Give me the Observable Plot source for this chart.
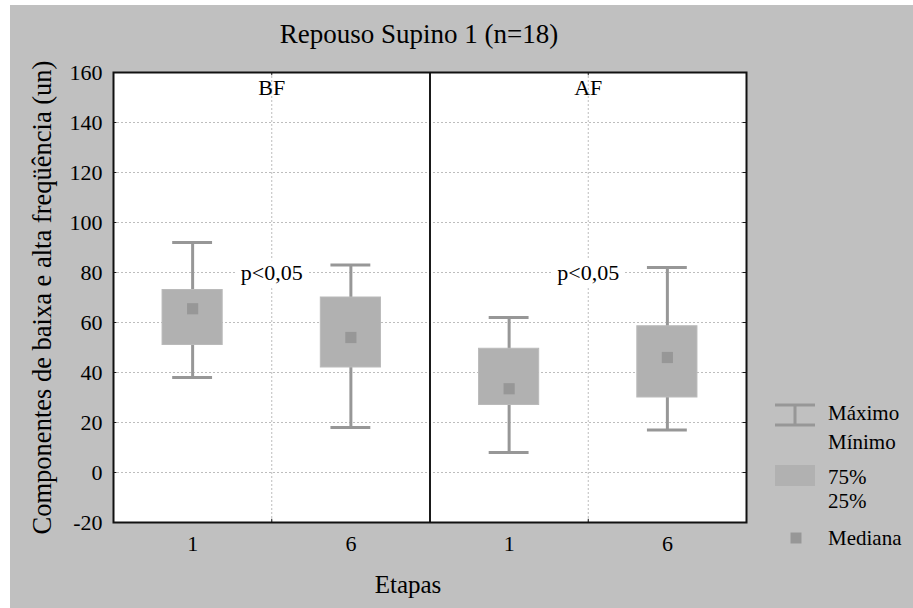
<!DOCTYPE html>
<html>
<head>
<meta charset="utf-8">
<script src="https://cdn.jsdelivr.net/npm/d3@7"></script>
<script src="https://cdn.jsdelivr.net/npm/@observablehq/plot@0.6"></script>
<style>
  html, body { margin: 0; padding: 0; background: #ffffff; overflow: hidden; width: 913px; height: 608px; }
  #bg { position: absolute; left: 10px; top: 5px; width: 903px; height: 603px; background: #c0c0c0; }
  #chart { position: absolute; left: 0; top: 0; }
  #chart svg, #chart svg text { font-family: "Liberation Serif", "Times New Roman", serif !important; }
  #legend { position: absolute; left: 0; top: 0; width: 913px; height: 608px; pointer-events: none; }
  #legend .t { position: absolute; font-family: "Liberation Serif", "Times New Roman", serif; font-size: 21px; color: #000; line-height: 20px; white-space: nowrap; }
</style>
</head>
<body>
<div id="bg"></div>
<div id="chart"></div>
<div id="legend"></div>
<script>
// ---- data ----
const panels = ["BF", "AF"];
const etapas = ["1", "6"];
const boxPanel = ["BF", "BF", "AF", "AF"];
const boxEtapa = ["1", "6", "1", "6"];
const maxima  = [92, 83, 62, 82];
const q75     = [73, 70, 49.5, 58.5];
const medians = [65.5, 54, 33.5, 46];
const q25     = [51, 42, 27, 30];
const minima  = [38, 18, 8, 17];
const yTicks = [-20, 0, 20, 40, 60, 80, 100, 120, 140, 160];
const pText = ["p<0,05", "p<0,05"];
const pValueY = [80, 80];
const title = "Repouso Supino 1 (n=18)";
const yLabel = "Componentes de baixa e alta freqüência (un)";
const xLabel = "Etapas";
const legendLabels = ["Máximo", "Mínimo", "75%", "25%", "Mediana"];

// ---- derived table ----
const pos = (p, e) => panels.indexOf(p) * etapas.length + etapas.indexOf(e) + 0.5;
const rows = boxPanel.map((p, i) => ({
  panel: p, etapa: boxEtapa[i], x: pos(p, boxEtapa[i]),
  max: maxima[i], q3: q75[i], med: medians[i], q1: q25[i], min: minima[i]
}));
const tickPos = panels.flatMap(p => etapas.map(e => pos(p, e)));
const mids = panels.map((p, i) => i * etapas.length + etapas.length / 2);
const dividers = panels.slice(1).map((p, i) => (i + 1) * etapas.length);
const pRows = panels.map((p, i) => ({x: mids[i], y: pValueY[i], text: pText[i]}));
const panelRows = panels.map((p, i) => ({x: mids[i], text: p}));
const gridY = yTicks.slice(1, -1);
const xMax = panels.length * etapas.length;

const boxHalf = 0.19, capHalf = 0.126;
const whisk = "#979797", boxFill = "#b1b1b1";
const serif = "Liberation Serif";

const chart = Plot.plot({
  width: 913, height: 608,
  marginLeft: 113, marginRight: 167, marginTop: 72, marginBottom: 86,
  style: {background: "transparent", fontFamily: serif, fontSize: "22px", color: "#000"},
  x: {domain: [0, xMax], axis: null},
  y: {domain: [yTicks[0], yTicks[yTicks.length - 1]], axis: null},
  marks: [
    Plot.frame({fill: "white", stroke: null}),
    Plot.ruleY(gridY, {stroke: "#bdbdbd", strokeDasharray: "2,2", strokeWidth: 1}),
    Plot.ruleX(mids, {stroke: "#bdbdbd", strokeDasharray: "2,2", strokeWidth: 1}),
    Plot.ruleX(dividers, {stroke: "#1a1a1a", strokeWidth: 2}),
    // inner tick marks
    Plot.ruleY(gridY, {x1: 0, x2: 0.022, stroke: "#1a1a1a", strokeWidth: 1}),
    Plot.ruleY(gridY, {x1: xMax - 0.022, x2: xMax, stroke: "#1a1a1a", strokeWidth: 1}),
    Plot.ruleX(mids, {y1: yTicks[0], y2: yTicks[0] + 1.3, stroke: "#1a1a1a", strokeWidth: 1}),
    Plot.ruleX(mids, {y1: yTicks[yTicks.length - 1] - 1.3, y2: yTicks[yTicks.length - 1], stroke: "#1a1a1a", strokeWidth: 1}),
    // whiskers
    Plot.ruleX(rows, {x: "x", y1: "min", y2: "max", stroke: whisk, strokeWidth: 3}),
    Plot.ruleY(rows, {y: "max", x1: d => d.x - capHalf, x2: d => d.x + capHalf, stroke: whisk, strokeWidth: 3}),
    Plot.ruleY(rows, {y: "min", x1: d => d.x - capHalf, x2: d => d.x + capHalf, stroke: whisk, strokeWidth: 3}),
    // boxes
    Plot.rect(rows, {x1: d => d.x - boxHalf, x2: d => d.x + boxHalf, y1: "q1", y2: "q3", fill: boxFill, stroke: "#bababa", strokeWidth: 1}),
    // medians
    Plot.dot(rows, {x: "x", y: "med", symbol: "square", r: 6.3, fill: "#979797", stroke: null}),
    // p labels
    Plot.text(pRows, {x: "x", y: "y", text: "text", fill: "black", stroke: "white", strokeWidth: 12, fontSize: 22, fontFamily: serif}),
    // panel labels
    Plot.text(panelRows, {x: "x", y: 154, text: "text", fill: "black", fontSize: 22, fontFamily: serif}),
    // axes
    Plot.axisY(yTicks, {anchor: "left", tickSize: 0, tickPadding: 11, label: null, fontSize: 22, fontFamily: serif, tickFormat: d => String(d)}),
    Plot.axisX(tickPos, {anchor: "bottom", tickSize: 0, tickPadding: 13, label: null, fontSize: 22, fontFamily: serif,
      tickFormat: (d) => etapas[tickPos.indexOf(d) % etapas.length]}),
    Plot.text([title], {frameAnchor: "top", lineAnchor: "middle", dx: -11, dy: -38, text: d => d, fontSize: 27, fill: "black", fontFamily: serif}),
    Plot.text([xLabel], {frameAnchor: "bottom", lineAnchor: "middle", dx: -22, dy: 62, text: d => d, fontSize: 25, fill: "black", fontFamily: serif}),
    Plot.text([yLabel], {frameAnchor: "left", textAnchor: "middle", lineAnchor: "middle", dx: -71, rotate: -90, text: d => d, fontSize: 26.5, fill: "black", fontFamily: serif}),
    Plot.frame({stroke: "#111", strokeWidth: 2})
  ]
});
document.getElementById("chart").appendChild(chart);

// ---- legend ----
const lg = document.getElementById("legend");
lg.innerHTML = `
<svg width="913" height="608" style="position:absolute;left:0;top:0">
  <g stroke="${whisk}" stroke-width="3" fill="none">
    <line x1="775" x2="815" y1="405" y2="405"/>
    <line x1="775" x2="815" y1="425" y2="425"/>
    <line x1="795" x2="795" y1="405" y2="425"/>
  </g>
  <rect x="775" y="465" width="40" height="21" fill="${boxFill}"/>
  <rect x="790.5" y="532.5" width="11" height="11" fill="#979797"/>
</svg>`;
const legendY = [413, 442, 477, 501, 538];
legendLabels.forEach((t, i) => {
  const s = document.createElement("div");
  s.className = "t";
  s.textContent = t;
  s.style.left = "828px";
  s.style.top = (legendY[i] - 10) + "px";
  lg.appendChild(s);
});
</script>
</body>
</html>
